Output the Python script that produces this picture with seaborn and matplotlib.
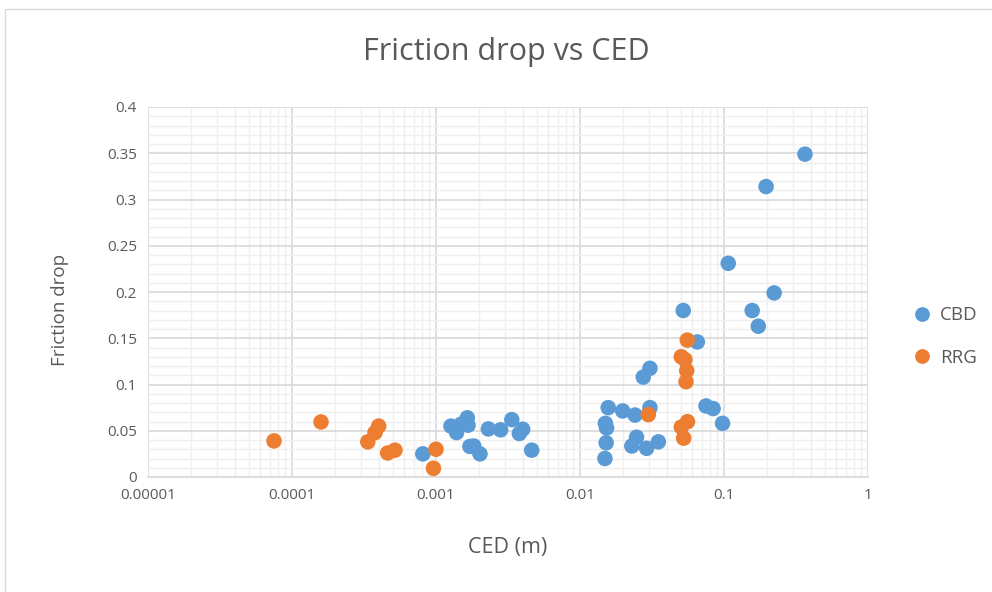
import matplotlib
matplotlib.use("Agg")
import matplotlib.pyplot as plt
import seaborn as sns
import pandas as pd
import numpy as np
from matplotlib.ticker import FixedLocator, LogLocator, MultipleLocator, NullFormatter
from matplotlib.patches import Rectangle

cbd_x = [8.1e-4, 1.27e-3, 1.39e-3, 1.49e-3, 1.65e-3, 1.67e-3, 1.72e-3, 1.83e-3, 2.02e-3,
         2.31e-3, 2.81e-3, 3.36e-3, 3.79e-3, 4.0e-3, 4.62e-3,
         0.0521, 0.223, 0.157, 0.173, 0.0653, 0.0306, 0.0275, 0.0157, 0.0198, 0.0241,
         0.0306, 0.0150, 0.0153, 0.0152, 0.0149, 0.0229, 0.0247, 0.029, 0.035,
         0.075, 0.084, 0.0977, 0.365, 0.196, 0.107]
cbd_y = [0.025, 0.055, 0.048, 0.057, 0.064, 0.056, 0.033, 0.0335, 0.025,
         0.052, 0.051, 0.062, 0.047, 0.0516, 0.029,
         0.180, 0.199, 0.180, 0.163, 0.146, 0.1175, 0.108, 0.075, 0.0714, 0.067,
         0.075, 0.058, 0.053, 0.037, 0.020, 0.0335, 0.043, 0.031, 0.038,
         0.0768, 0.074, 0.058, 0.349, 0.314, 0.231]

rrg_x = [7.5e-5, 1.59e-4, 4.0e-4, 3.77e-4, 3.36e-4, 4.62e-4, 5.19e-4, 1.0e-3, 9.6e-4,
         0.0298, 0.0556, 0.0505, 0.0535, 0.0551, 0.0545, 0.0558, 0.0505, 0.0525]
rrg_y = [0.039, 0.0595, 0.055, 0.048, 0.038, 0.026, 0.029, 0.030, 0.0094,
         0.0674, 0.148, 0.130, 0.127, 0.115, 0.103, 0.0598, 0.054, 0.042]

x_ticks = [1e-5, 1e-4, 1e-3, 1e-2, 1e-1, 1]
x_labels = ["0.00001", "0.0001", "0.001", "0.01", "0.1", "1"]
y_ticks = [0, 0.05, 0.1, 0.15, 0.2, 0.25, 0.3, 0.35, 0.4]
y_labels = ["0", "0.05", "0.1", "0.15", "0.2", "0.25", "0.3", "0.35", "0.4"]

df = pd.DataFrame({
    "CED": cbd_x + rrg_x,
    "drop": cbd_y + rrg_y,
    "series": ["CBD"] * len(cbd_x) + ["RRG"] * len(rrg_x),
})

sns.set_theme(style="white")
plt.rcParams['font.family'] = ['Open Sans', 'DejaVu Sans']

fig = plt.figure(figsize=(9.92, 5.92), dpi=100)
fig.patches.append(Rectangle((0.0055, -0.05), 1.1, 1.034, transform=fig.transFigure,
                             fill=False, edgecolor="#D9D9D9", linewidth=1))
ax = fig.add_axes([148/992, 1-477/592, 720/992, 370/592])

sns.scatterplot(data=df, x="CED", y="drop", hue="series",
                palette={"CBD": "#5B9BD5", "RRG": "#ED7D31"},
                s=125, edgecolor="none", ax=ax, zorder=3, legend=True)
ax.set_xscale("log")
ax.set_xlim(1e-5, 1)
ax.set_ylim(0, 0.4)

ax.xaxis.set_major_locator(FixedLocator(x_ticks))
ax.set_xticklabels(x_labels)
ax.xaxis.set_minor_locator(LogLocator(base=10, subs=np.arange(2, 10)))
ax.xaxis.set_minor_formatter(NullFormatter())
ax.set_yticks(y_ticks)
ax.set_yticklabels(y_labels)
ax.yaxis.set_minor_locator(MultipleLocator(0.01))

ax.grid(which="major", color="#D9D9D9", linewidth=1.2, zorder=0)
ax.grid(which="minor", color="#EFEFEF", linewidth=1.0, zorder=0)
ax.set_axisbelow(True)
for s in ["top", "right", "left"]:
    ax.spines[s].set_visible(False)
ax.spines["bottom"].set_color("#D9D9D9")
ax.spines["bottom"].set_linewidth(1.2)
ax.tick_params(which="both", length=0, labelsize=11, colors="#595959", pad=8)

ax.set_xlabel("CED (m)", fontsize=15.5, color="#595959")
ax.xaxis.set_label_coords(0.5, (477 - 548) / 370)
ax.xaxis.label.set_va("center")
ax.set_ylabel("Friction drop", fontsize=13.5, color="#595959")
ax.yaxis.set_label_coords((60 - 148) / 720, (477 - 310) / 370)
ax.yaxis.label.set_va("center")
fig.text(506/992, 1-52/592, "Friction drop vs CED", ha="center", va="center",
         fontsize=22, color="#595959")

handles, labels = ax.get_legend_handles_labels()
leg = ax.legend(handles, labels, loc="center left", bbox_to_anchor=(1.025, 0.38),
                frameon=False, fontsize=13.5, labelspacing=1.3, handletextpad=0.0,
                markerscale=0.95)
for t in leg.get_texts():
    t.set_color("#595959")

fig.savefig("out.png", dpi=100)
